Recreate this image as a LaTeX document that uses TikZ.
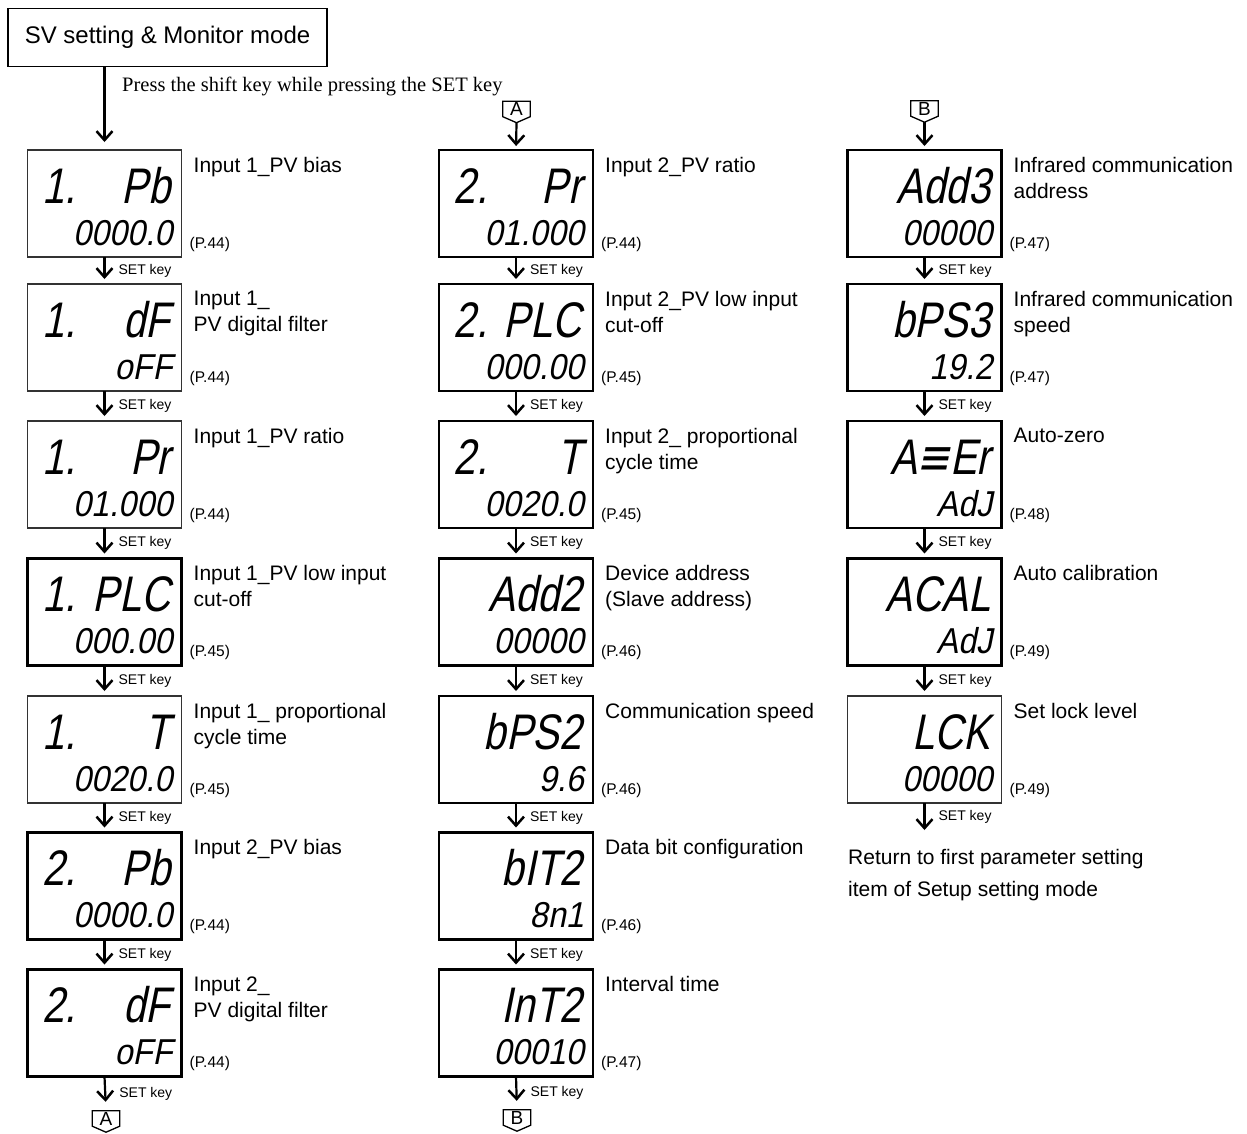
\documentclass[tikz,border=0pt]{standalone}
\usepackage{fontspec}
\setmainfont{Liberation Sans}
\newfontfamily\serifrm{Liberation Serif}
\newfontfamily\segtopfont{Liberation Sans}[FakeSlant=0.2,FakeStretch=0.8]
\newfontfamily\segbotfont{Liberation Sans}[FakeSlant=0.2,FakeStretch=0.9]
\newfontfamily\djv{DejaVu Sans}[FakeSlant=0.2,FakeStretch=0.8]
\usetikzlibrary{arrows.meta}
\tikzset{
 dispbox/.style={draw, rectangle, minimum width=154pt, minimum height=107pt, inner sep=0pt, outer sep=0pt},
 thinbox/.style={dispbox, line width=1.3pt, draw=black!80},
 thickbox/.style={dispbox, line width=2.6pt},
 segtop/.style={font=\segtopfont\fontsize{50}{50}\selectfont, inner sep=0pt, anchor=base east},
 segbot/.style={font=\segbotfont\fontsize{36}{36}\selectfont, inner sep=0pt, anchor=base east},
 lbl/.style={font=\fontsize{21}{26}\selectfont, inner sep=0pt, anchor=north west, align=left},
 pg/.style={font=\fontsize{15.5}{16}\selectfont, inner sep=0pt, anchor=west},
 arr/.style={line width=2.2pt, -{Straight Barb[length=9pt,width=16pt,line width=2.5pt]}},
 setlbl/.style={font=\fontsize{14}{15}\selectfont, inner sep=0pt, anchor=west, xshift=13pt},
 marker/.style={minimum width=27pt, minimum height=15pt, inner sep=0pt, font=\fontsize{19}{19}\selectfont},
 pent/.style={line width=1.3pt},
}
\newcommand\dispitem[8]{%
 \node[#3] (#1) at (#2) {};
 \node[segtop] (#1t) at ([xshift=-11pt,yshift=-53pt]#1.north east) {\hbox to 128pt{#4\hfill #5}};
 \node[segbot] (#1b) at ([xshift=-9pt,yshift=-95pt]#1.north east) {#6};
 \node[lbl] (#1l) at ([xshift=12pt,yshift=-7pt]#1.north east) {#7};
 \node[pg] (#1g) at ([xshift=8pt,yshift=-94pt]#1.north east) {#8};
}
\newcommand\setarr[2]{\draw[arr, shorten >=5pt] (#1.south) -- (#2.north) node[setlbl, midway] {SET key};}
\begin{document}
\begin{tikzpicture}[x=1pt,y=-1pt]
\useasboundingbox (0,0) rectangle (1247,1133);
% title
\node[draw, line width=1.6pt, minimum width=319pt, minimum height=58pt, inner sep=0pt, font=\fontsize{24}{24}\selectfont] (title) at (167.5,37.5) {SV setting \& Monitor mode};
\node[font=\serifrm\fontsize{20.5}{21}\selectfont, anchor=base west, inner sep=0pt] (press) at (122,91) {Press the shift key while pressing the SET key};
% column 1
\dispitem{c1r1}{104.5,203.5}{thinbox}{1.}{Pb}{0000.0}{Input 1\_PV bias}{(P.44)}
\dispitem{c1r2}{104.5,337.5}{thinbox}{1.}{dF}{oFF}{Input 1\_\\PV digital filter}{(P.44)}
\dispitem{c1r3}{104.5,474.5}{thinbox}{1.}{Pr}{01.000}{Input 1\_PV ratio}{(P.44)}
\dispitem{c1r4}{104.5,612}{thickbox}{1.}{PLC}{000.00}{Input 1\_PV low input\\cut-off}{(P.45)}
\dispitem{c1r5}{104.5,749.5}{thinbox}{1.}{T}{0020.0}{Input 1\_ proportional\\cycle time}{(P.45)}
\dispitem{c1r6}{104.5,886}{thickbox}{2.}{Pb}{0000.0}{Input 2\_PV bias}{(P.44)}
\dispitem{c1r7}{104.5,1023}{thickbox}{2.}{dF}{oFF}{Input 2\_\\PV digital filter}{(P.44)}
% column 2
\dispitem{c2r1}{516,203.5}{thickbox}{2.}{Pr}{01.000}{Input 2\_PV ratio}{(P.44)}
\dispitem{c2r2}{516,337.5}{thickbox}{2.}{PLC}{000.00}{Input 2\_PV low input\\cut-off}{(P.45)}
\dispitem{c2r3}{516,474.5}{thickbox}{2.}{T}{0020.0}{Input 2\_ proportional\\cycle time}{(P.45)}
\dispitem{c2r4}{516,612}{thickbox}{}{Add2}{00000}{Device address\\(Slave address)}{(P.46)}
\dispitem{c2r5}{516,749.5}{thickbox}{}{bPS2}{9.6}{Communication speed}{(P.46)}
\dispitem{c2r6}{516,886}{thickbox}{}{bIT2}{8n1}{Data bit configuration}{(P.46)}
\dispitem{c2r7}{516,1023}{thickbox}{}{InT2}{00010}{Interval time}{(P.47)}
% column 3
\dispitem{c3r1}{924.5,203.5}{thickbox}{}{Add3}{00000}{Infrared communication\\address}{(P.47)}
\dispitem{c3r2}{924.5,337.5}{thickbox}{}{bPS3}{19.2}{Infrared communication\\speed}{(P.47)}
\dispitem{c3r3}{924.5,474.5}{thickbox}{}{A{\djv ≡}Er}{AdJ}{Auto-zero}{(P.48)}
\dispitem{c3r4}{924.5,612}{thickbox}{}{ACAL}{AdJ}{Auto calibration}{(P.49)}
\dispitem{c3r5}{924.5,749.5}{thinbox}{}{LCK}{00000}{Set lock level}{(P.49)}
% markers
\node[marker] (mA2) at (516.5,109) {A};
\node[marker] (mB2) at (924.5,108.5) {B};
\node[marker] (mA1) at (106,1118.5) {A};
\node[marker] (mB1) at (517,1117.5) {B};
\foreach \mk in {mA2,mB2,mA1,mB1}
  \draw[pent] (\mk.north west) -- (\mk.north east) -- (\mk.south east) -- ([yshift=-6pt]\mk.south) -- (\mk.south west) -- cycle;
% connectors
\draw[arr, shorten >=8pt] (c1r1.north |- title.south) -- (c1r1.north);
\draw[arr, shorten >=4pt] ([yshift=-6pt]mA2.south) -- (c2r1.north);
\draw[arr, shorten >=4pt] ([yshift=-6pt]mB2.south) -- (c3r1.north);
\setarr{c1r1}{c1r2}
\setarr{c1r2}{c1r3}
\setarr{c1r3}{c1r4}
\setarr{c1r4}{c1r5}
\setarr{c1r5}{c1r6}
\setarr{c1r6}{c1r7}
\setarr{c2r1}{c2r2}
\setarr{c2r2}{c2r3}
\setarr{c2r3}{c2r4}
\setarr{c2r4}{c2r5}
\setarr{c2r5}{c2r6}
\setarr{c2r6}{c2r7}
\setarr{c3r1}{c3r2}
\setarr{c3r2}{c3r3}
\setarr{c3r3}{c3r4}
\setarr{c3r4}{c3r5}
\draw[arr, shorten >=9pt] (c1r7.south) -- (mA1.north) node[setlbl, midway] {SET key};
\draw[arr, shorten >=9pt] (c2r7.south) -- (mB1.north) node[setlbl, midway] {SET key};
\coordinate (end3) at (924.5,830);
\draw[arr] (c3r5.south) -- (end3) node[setlbl, midway] {SET key};
\node[font=\fontsize{21}{32}\selectfont, anchor=north west, align=left, inner sep=0pt] (ret) at (848,849) {Return to first parameter setting\\item of Setup setting mode};
\end{tikzpicture}
\end{document}
